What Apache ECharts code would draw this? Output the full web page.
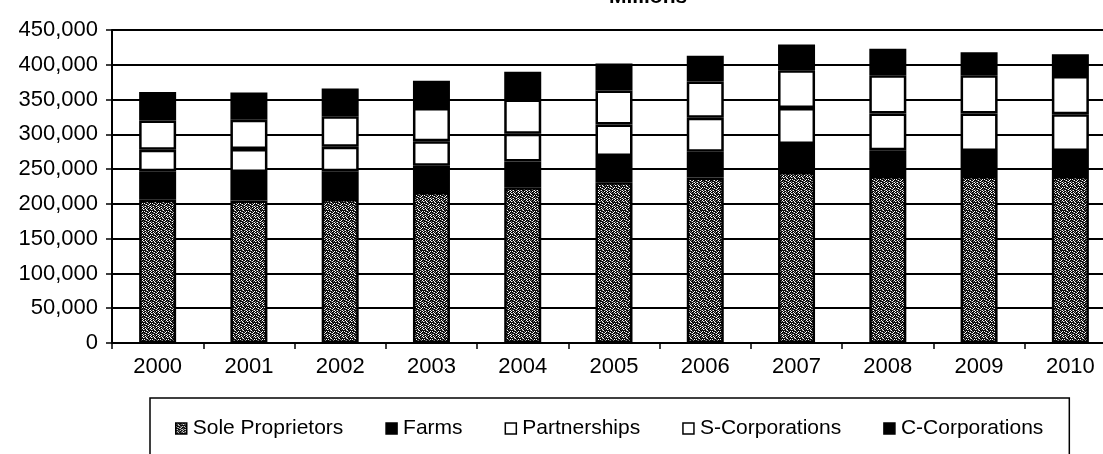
<!DOCTYPE html>
<html>
<head>
<meta charset="utf-8">
<script src="https://cdn.jsdelivr.net/npm/echarts@6/dist/echarts.min.js"></script>
<style>
html,body{margin:0;padding:0;background:#fff;overflow:hidden;width:1103px;height:454px;}
#chart{width:1116px;height:454px;}
</style>
</head>
<body>
<div id="chart"></div>
<script>
// ---- data ----
var years = ['2000','2001','2002','2003','2004','2005','2006','2007','2008','2009','2010'];
var soleProprietors = [206000, 205000, 207000, 217000, 224000, 231000, 238000, 246000, 240000, 240000, 240000];
var farms           = [41000, 41000, 40000, 38000, 37000, 38000, 37000, 40000, 37000, 36000, 36000];
var partnerships    = [31000, 33000, 35000, 35000, 40000, 45000, 49000, 52000, 53000, 54000, 53000];
var sCorporations   = [42000, 42000, 44000, 48000, 49000, 49000, 52000, 54000, 55000, 55000, 55000];
var cCorporations   = [41000, 39000, 40000, 39000, 40000, 39000, 37000, 37000, 38000, 33000, 31000];
var seriesNames = ['Sole Proprietors', 'Farms', 'Partnerships', 'S-Corporations', 'C-Corporations'];
var titleText = 'Millions';

// stipple texture (fixed pixel map, style only)
function makePattern(){
  var map = [
    'BWBGBBWB',
    'GBWBBGBW',
    'BBGWBBBB',
    'WBBBGBWB',
    'BGWBBWBB',
    'BBBGWBBG',
    'GWBBBGWB',
    'BBGBWBBW'
  ];
  var c = document.createElement('canvas');
  c.width = 8; c.height = 8;
  var ctx = c.getContext('2d');
  var col = {B:'#0a0a0a', W:'#ffffff', G:'#7a7a7a'};
  for (var y=0;y<8;y++) for (var x=0;x<8;x++){
    ctx.fillStyle = col[map[y][x]];
    ctx.fillRect(x,y,1,1);
  }
  return c;
}
var stipple = {image: makePattern(), repeat: 'repeat'};

var fills = [stipple, '#000', '#fff', '#fff', '#000'];
var values = [soleProprietors, farms, partnerships, sCorporations, cCorporations];

var chart = echarts.init(document.getElementById('chart'));
var font = '"Liberation Sans", Arial, sans-serif';

var series = seriesNames.map(function(n, i){
  return {
    name: n,
    type: 'bar',
    stack: 'total',
    barWidth: 37,
    data: values[i],
    itemStyle: {color: fills[i], borderColor: '#000', borderWidth: 2.5},
    emphasis: {disabled: true}
  };
});

chart.setOption({
  animation: false,
  backgroundColor: '#fff',
  title: {
    text: titleText,
    left: 604, top: -18,
    textStyle: {fontFamily: font, fontSize: 21, fontWeight: 'bold', color: '#000'}
  },
  grid: {left: 112, right: 0, top: 30, bottom: 111, containLabel: false},
  legend: {
    data: seriesNames.map(function(n){ return {name: n, icon: 'rect'}; }),
    left: 150, top: 398,
    orient: 'horizontal',
    padding: [20, 26, 16, 25],
    itemGap: 42,
    itemWidth: 11, itemHeight: 11,
    borderColor: '#000', borderWidth: 1.5,
    itemStyle: {borderColor: '#000', borderWidth: 1.5},
    textStyle: {fontFamily: font, fontSize: 21, color: '#000', padding: [0,0,0,1]},
    selectedMode: false
  },
  xAxis: {
    type: 'category',
    data: years,
    axisLine: {lineStyle: {color: '#000', width: 2}},
    axisTick: {show: true, length: 6, lineStyle: {color: '#000', width: 1.5}},
    axisLabel: {fontFamily: font, fontSize: 22, color: '#000', margin: 13}
  },
  yAxis: {
    type: 'value',
    min: 0, max: 450000, interval: 50000,
    axisLine: {show: true, lineStyle: {color: '#000', width: 2}},
    axisTick: {show: true, length: 6, lineStyle: {color: '#000', width: 1.5}},
    splitLine: {lineStyle: {color: '#000', width: 2}},
    axisLabel: {
      fontFamily: font, fontSize: 22, color: '#000', margin: 14,
      formatter: function(v){ return v.toLocaleString('en-US'); }
    }
  },
  series: series
});
</script>
</body>
</html>
